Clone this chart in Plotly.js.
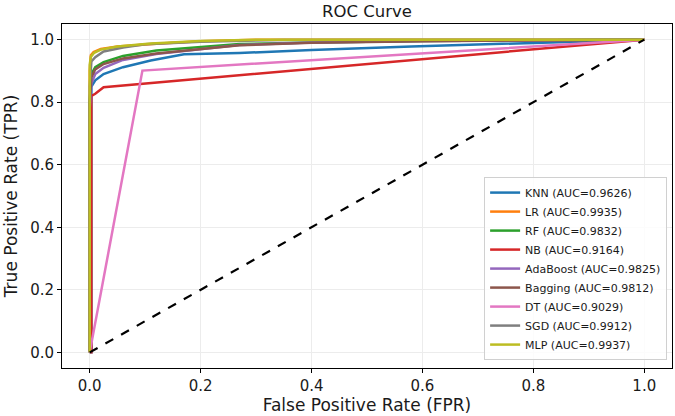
<!DOCTYPE html>
<html>
<head>
<meta charset="utf-8">
<script src="https://cdn.plot.ly/plotly-3.0.1.min.js"></script>
<style>
  html, body { margin: 0; padding: 0; background: #fff; }
  #chart { width: 675px; height: 416px; }
</style>
</head>
<body>
<div id="chart"></div>
<script>
// ROC curves for each classifier (false positive rate vs true positive rate)
const modelNames = ["KNN", "LR", "RF", "NB", "AdaBoost", "Bagging", "DT", "SGD", "MLP"];
const aucValues = [0.9626, 0.9935, 0.9832, 0.9164, 0.9825, 0.9812, 0.9029, 0.9912, 0.9937];
const modelColors = ["#1f77b4", "#ff7f0e", "#2ca02c", "#d62728", "#9467bd",
                     "#8c564b", "#e377c2", "#7f7f7f", "#bcbd22"];

const knnFpr = [0, 0.003, 0.003, 0.01, 0.025, 0.06, 0.11, 0.17, 0.27, 0.40, 0.58, 0.80, 1.0];
const knnTpr = [0, 0, 0.85, 0.87, 0.89, 0.912, 0.933, 0.953, 0.957, 0.967, 0.978, 0.99, 1.0];

const lrFpr = [0, 0, 0.002, 0.007, 0.02, 0.05, 0.127, 0.2, 0.3, 1.0];
const lrTpr = [0, 0.9, 0.95, 0.96, 0.97, 0.978, 0.988, 0.995, 1.0, 1.0];

const rfFpr = [0, 0, 0.003, 0.01, 0.025, 0.06, 0.12, 0.27, 0.4, 0.6, 1.0];
const rfTpr = [0, 0.8, 0.89, 0.912, 0.928, 0.948, 0.965, 0.986, 0.991, 0.996, 1.0];

const nbFpr = [0, 0.003, 0.003, 0.01, 0.025, 1.0];
const nbTpr = [0, 0, 0.82, 0.827, 0.848, 1.0];

const adaFpr = [0, 0, 0.003, 0.01, 0.025, 0.06, 0.12, 0.27, 0.4, 0.6, 1.0];
const adaTpr = [0, 0.78, 0.86, 0.89, 0.91, 0.935, 0.954, 0.983, 0.991, 0.996, 1.0];

const bagFpr = [0, 0, 0.003, 0.01, 0.025, 0.06, 0.12, 0.27, 0.4, 0.6, 1.0];
const bagTpr = [0, 0.8, 0.88, 0.905, 0.922, 0.94, 0.956, 0.982, 0.99, 0.995, 1.0];

const dtFpr = [0, 0.095, 1.0];
const dtTpr = [0, 0.901, 1.0];

const sgdFpr = [0, 0, 0.003, 0.01, 0.025, 0.06, 0.1, 0.2, 0.35, 1.0];
const sgdTpr = [0, 0.85, 0.93, 0.944, 0.962, 0.975, 0.985, 0.993, 0.999, 1.0];

const mlpFpr = [0, 0, 0.002, 0.008, 0.02, 0.05, 0.11, 0.2, 0.3, 1.0];
const mlpTpr = [0, 0.92, 0.945, 0.958, 0.968, 0.978, 0.988, 0.996, 1.0, 1.0];

const chanceFpr = [0, 1];
const chanceTpr = [0, 1];

const curves = [
  [knnFpr, knnTpr], [lrFpr, lrTpr], [rfFpr, rfTpr], [nbFpr, nbTpr],
  [adaFpr, adaTpr], [bagFpr, bagTpr], [dtFpr, dtTpr], [sgdFpr, sgdTpr],
  [mlpFpr, mlpTpr]
];

const traces = curves.map((c, i) => ({
  x: c[0],
  y: c[1],
  type: "scatter",
  mode: "lines",
  name: modelNames[i] + " (AUC=" + aucValues[i].toFixed(4) + ")",
  line: { color: modelColors[i], width: 2.5 }
}));

// random-guess reference line
traces.push({
  x: chanceFpr,
  y: chanceTpr,
  type: "scatter",
  mode: "lines",
  showlegend: false,
  line: { color: "#000000", width: 2.2, dash: "dash" }
});

const axisCommon = {
  range: [-0.05, 1.05],
  dtick: 0.2,
  tick0: 0,
  tickformat: ".1f",
  showgrid: true,
  gridcolor: "#ececec",
  gridwidth: 1,
  zeroline: false,
  showline: true,
  linecolor: "#000000",
  linewidth: 1,
  mirror: true,
  ticks: "outside",
  ticklen: 4,
  tickcolor: "#000000",
  tickfont: { family: "DejaVu Sans", size: 15, color: "#1a1a1a" }
};

const layout = {
  width: 675,
  height: 416,
  margin: { l: 62, r: 3, t: 24, b: 48 },
  paper_bgcolor: "#ffffff",
  plot_bgcolor: "#ffffff",
  font: { family: "DejaVu Sans", color: "#1a1a1a" },
  title: {
    text: "ROC Curve",
    font: { family: "DejaVu Sans", size: 16.5, color: "#1a1a1a" },
    xref: "paper", x: 0.5, xanchor: "center",
    yref: "container", y: 0.972, yanchor: "middle"
  },
  xaxis: Object.assign({}, axisCommon, {
    title: { text: "False Positive Rate (FPR)", font: { family: "DejaVu Sans", size: 17, color: "#1a1a1a" }, standoff: 2 }
  }),
  yaxis: Object.assign({}, axisCommon, {
    title: { text: "True Positive Rate (TPR)", font: { family: "DejaVu Sans", size: 17, color: "#1a1a1a" }, standoff: 8 }
  }),
  legend: {
    x: 0.992, xanchor: "right",
    y: 0.023, yanchor: "bottom",
    bgcolor: "rgba(255,255,255,0.85)",
    bordercolor: "#d0d0d0",
    borderwidth: 1,
    font: { family: "DejaVu Sans", size: 11, color: "#1a1a1a" },
    itemwidth: 30
  },
  showlegend: true
};

Plotly.newPlot("chart", traces, layout, { displayModeBar: false, staticPlot: true });
</script>
</body>
</html>
